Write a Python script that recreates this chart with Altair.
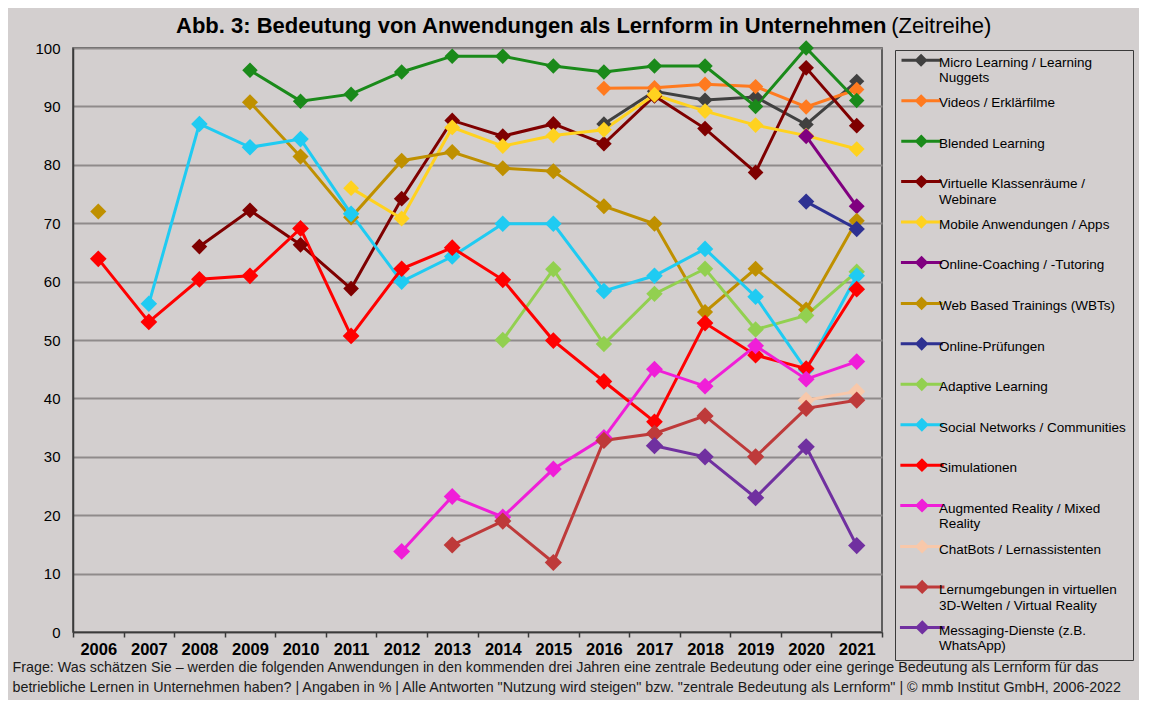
import json
import altair as alt
import pandas as pd

# ---------------- data ----------------
years = [str(y) for y in range(2006, 2022)]
N = None

series_names = [
    "Micro Learning / Learning Nuggets",
    "Videos / Erklärfilme",
    "Blended Learning",
    "Virtuelle Klassenräume / Webinare",
    "Mobile Anwendungen / Apps",
    "Online-Coaching / -Tutoring",
    "Web Based Trainings (WBTs)",
    "Online-Prüfungen",
    "Adaptive Learning",
    "Social Networks / Communities",
    "Simulationen",
    "Augmented Reality / Mixed Reality",
    "ChatBots / Lernassistenten",
    "Lernumgebungen in virtuellen 3D-Welten / Virtual Reality",
    "Messaging-Dienste (z.B. WhatsApp)",
]

micro      = [N, N, N, N, N, N, N, N, N, N, 87.0, 92.6, 91.1, 91.6, 86.9, 94.3]
videos     = [N, N, N, N, N, N, N, N, N, N, 93.1, 93.2, 93.8, 93.4, 89.9, 92.9]
blended    = [N, N, N, 96.2, 90.9, 92.1, 95.9, 98.6, 98.6, 96.9, 95.9, 96.9, 96.9, 90.0, 100.0, 91.0]
virtuell   = [N, N, 66.0, 72.2, 66.3, 58.8, 74.2, 87.6, 84.9, 87.0, 83.6, 91.8, 86.2, 78.7, 96.6, 86.7]
mobile     = [N, N, N, N, N, 76.0, 70.8, 86.4, 83.2, 85.0, 86.0, 92.0, 89.2, 86.8, 85.0, 82.7]
coaching   = [N, N, N, N, N, N, N, N, N, N, N, N, N, N, 84.9, 72.9]
wbt        = [72.0, N, N, 90.7, 81.4, 71.0, 80.7, 82.2, 79.4, 78.9, 72.9, 69.9, 54.8, 62.2, 55.2, 70.4]
pruefungen = [N, N, N, N, N, N, N, N, N, N, N, N, N, N, 73.7, 69.0]
adaptive   = [N, N, N, N, N, N, N, N, 50.0, 62.1, 49.3, 57.9, 62.2, 51.8, 54.2, 61.7]
social     = [N, 56.2, 87.0, 83.0, 84.4, 71.6, 60.0, 64.3, 69.9, 69.9, 58.4, 61.0, 65.6, 57.4, 44.9, 61.0]
simulation = [63.9, 53.1, 60.4, 61.0, 69.1, 50.7, 62.2, 65.8, 60.3, 49.9, 42.9, 36.0, 52.9, 47.4, 45.1, 58.7]
ar         = [N, N, N, N, N, N, 13.8, 23.2, 19.7, 27.9, 33.3, 45.0, 42.1, 49.0, 43.3, 46.3]
chatbots   = [N, N, N, N, N, N, N, N, N, N, N, N, N, N, 39.7, 41.2]
vr3d       = [N, N, N, N, N, N, N, 14.9, 19.0, 11.9, 32.8, 34.0, 37.0, 30.0, 38.3, 39.7]
messaging  = [N, N, N, N, N, N, N, N, N, N, N, 31.9, 30.0, 23.0, 31.7, 14.8]

series_values = [micro, videos, blended, virtuell, mobile, coaching, wbt, pruefungen,
                 adaptive, social, simulation, ar, chatbots, vr3d, messaging]

# ---------------- styles ----------------
colors = ["#404040", "#FF7A1F", "#1A8A1A", "#7F0000", "#FFD21F", "#800080", "#BF9000",
          "#2E3192", "#92D050", "#1FCBF2", "#FF0000", "#F01ED8", "#F8C8AA", "#BE3A3A", "#7030A0"]
marker_sizes = [230, 300, 340, 200, 310, 290, 300, 310, 310, 340, 310, 290, 260, 300, 290]

legend_wrap = {
    "Micro Learning / Learning Nuggets": ["Micro Learning / Learning", "Nuggets"],
    "Virtuelle Klassenräume / Webinare": ["Virtuelle Klassenräume /", "Webinare"],
    "Augmented Reality / Mixed Reality": ["Augmented Reality / Mixed", "Reality"],
    "Lernumgebungen in virtuellen 3D-Welten / Virtual Reality": ["Lernumgebungen in virtuellen", "3D-Welten / Virtual Reality"],
    "Messaging-Dienste (z.B. WhatsApp)": ["Messaging-Dienste (z.B.", "WhatsApp)"],
}

title_bold = "Abb. 3: Bedeutung von Anwendungen als Lernform in Unternehmen"
title_rest = "(Zeitreihe)"
footnote = [
    "Frage: Was schätzen Sie – werden die folgenden Anwendungen in den kommenden drei Jahren eine zentrale Bedeutung oder eine geringe Bedeutung als Lernform für das",
    "betriebliche Lernen in Unternehmen haben? | Angaben in % | Alle Antworten \"Nutzung wird steigen\" bzw. \"zentrale Bedeutung als Lernform\" | © mmb Institut GmbH, 2006-2022",
]

# ---------------- table ----------------
rows = []
for name, vals in zip(series_names, series_values):
    seg = 0
    prev_valid = False
    for yr, v in zip(years, vals):
        if v is None:
            if prev_valid:
                seg += 1
            prev_valid = False
            continue
        rows.append({"Jahr": yr, "Anwendung": name, "Wert": v, "Segment": f"{name}#{seg}"})
        prev_valid = True
df = pd.DataFrame(rows)

FONT = "Liberation Sans, Arial, Helvetica, sans-serif"
BG = "#D3CFCF"
DARK = "#3A3A3A"
PLOT_W, PLOT_H = 809, 584

label_expr = "".join(
    f"datum.label == {json.dumps(k)} ? {json.dumps(v)} : " for k, v in legend_wrap.items()
) + "datum.label"

# legend symbol: short line with a diamond in its middle (1 unit = 6px)
legend_symbol = "M-1.45,-0.82L3.72,-0.82M1.13,-1.4L1.71,-0.82L1.13,-0.24L0.55,-0.82Z"

color_scale = alt.Scale(domain=series_names, range=colors)

x_enc = alt.X(
    "Jahr:O",
    sort=years,
    scale=alt.Scale(type="band", domain=years, paddingInner=0, paddingOuter=0),
    bandPosition=0.5,
    axis=alt.Axis(
        title=footnote,
        labelFont=FONT, labelFontSize=16.5, labelFontWeight="bold", labelColor="#000000",
        labelPadding=4, labelAngle=0,
        tickBand="extent", ticks=True, tickSize=5, tickColor=DARK, tickWidth=1.5,
        domainColor=DARK, domainWidth=1.5, grid=False,
        titleFont=FONT, titleFontSize=14.3, titleFontWeight="normal", titleColor="#1A1A1A",
        titleAlign="left", titleBaseline="top", titleX=-61, titleY=28,
        titleLineHeight=20, titleLimit=2000,
    ),
)
y_enc = alt.Y(
    "Wert:Q",
    scale=alt.Scale(domain=[0, 100], nice=False),
    axis=alt.Axis(
        title=None, values=list(range(0, 101, 10)),
        labelFont=FONT, labelFontSize=15, labelColor="#000000", labelPadding=13,
        ticks=False, domainColor=DARK, domainWidth=1.5,
        grid=True, gridColor="#8F8B8B", gridWidth=2,
    ),
)

legend = alt.Legend(
    title=None, orient="none", legendX=PLOT_W + 13, legendY=2, padding=7,
    strokeColor=DARK, fillColor=BG,
    symbolType=legend_symbol, symbolSize=36, symbolStrokeWidth=3, symbolOpacity=1,
    labelFont=FONT, labelFontSize=13.5, labelColor="#000000", labelBaseline="alphabetic",
    labelOffset=16, labelLimit=400, labelExpr=label_expr,
    gridAlign="all", rowPadding=3.5,
)

color_enc = alt.Color("Anwendung:N", scale=color_scale, sort=series_names, legend=legend)

lines = alt.Chart(df).mark_line(strokeWidth=3).encode(
    x=x_enc, y=y_enc, color=color_enc, detail="Segment:N",
)
points = alt.Chart(df).mark_point(shape="diamond", filled=True, opacity=1).encode(
    x=x_enc, y=y_enc, color=color_enc,
    size=alt.Size("Anwendung:N", scale=alt.Scale(domain=series_names, range=marker_sizes), legend=None),
)

subtitle_text = "\u200d" + "\u00a0" * 117 + title_rest

chart = (
    alt.layer(lines, points)
    .properties(
        width=PLOT_W, height=PLOT_H,
        background=BG,
        padding={"left": 4, "top": 7, "right": 5, "bottom": 5},
        title=alt.Title(
            text=title_bold, subtitle=subtitle_text,
            anchor="start", frame="group", dx=103,
            font=FONT, fontSize=22, fontWeight="bold", color="#000000", lineHeight=22,
            subtitleFont=FONT, subtitleFontSize=22, subtitleColor="#000000",
            subtitleLineHeight=22, subtitlePadding=-22, offset=2,
        ),
    )
    .configure_view(stroke=DARK, strokeWidth=1.5)
)

chart.save("out.html", embed_options={"renderer": "svg", "actions": False})
